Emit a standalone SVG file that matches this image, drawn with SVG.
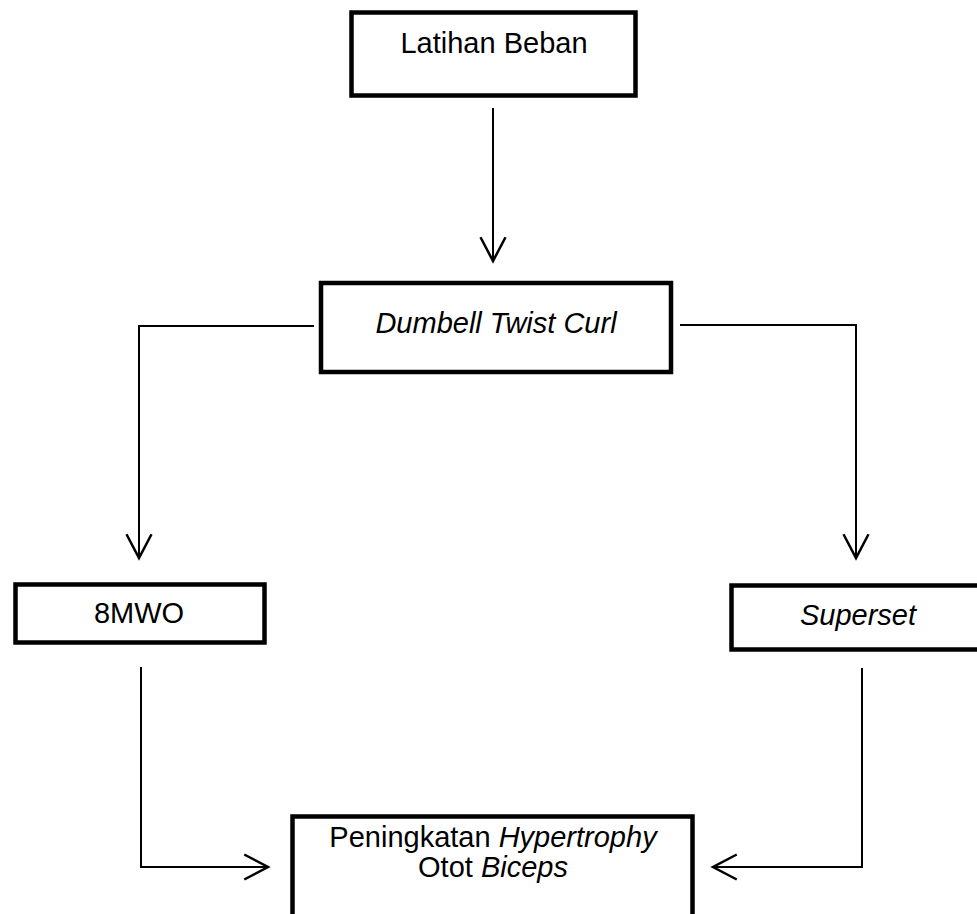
<svg xmlns="http://www.w3.org/2000/svg" width="977" height="914" viewBox="0 0 977 914">
<style>
.box{fill:#fff;stroke:#000;stroke-width:4.5}
.t{font-family:"Liberation Sans",Arial,sans-serif;font-size:29px;fill:#000;text-anchor:middle}
.i{font-style:italic}
.c{fill:none;stroke:#000;stroke-width:2}
</style>
<defs>
<marker id="ah" markerUnits="userSpaceOnUse" markerWidth="30" markerHeight="30" viewBox="-22 -12 24 24" refX="0" refY="0" orient="auto" overflow="visible">
<path d="M-19,-10 L0,0 L-19,10" fill="none" stroke="#000" stroke-width="2"/>
</marker>
</defs>
<rect width="977" height="914" fill="#fff"/>
<g id="connectors">
<path class="c" d="M493,108 L493,261" marker-end="url(#ah)"/>
<path class="c" d="M314,326 L139,326 L139,558" marker-end="url(#ah)"/>
<path class="c" d="M680,325 L856,325 L856,558" marker-end="url(#ah)"/>
<path class="c" d="M141,667 L141,867 L268,867" marker-end="url(#ah)"/>
<path class="c" d="M862,668 L862,867 L713,867" marker-end="url(#ah)"/>
</g>
<g id="n1">
<rect class="box" x="351.5" y="12.5" width="284" height="83"/>
<text class="t" x="494" y="53">Latihan Beban</text>
</g>
<g id="n2">
<rect class="box" x="321" y="283" width="350" height="89"/>
<text class="t i" x="496" y="333">Dumbell Twist Curl</text>
</g>
<g id="n3">
<rect class="box" x="15.5" y="584.5" width="249" height="58"/>
<text class="t" x="139" y="623">8MWO</text>
</g>
<g id="n4">
<rect class="box" x="731.5" y="585.5" width="270" height="64"/>
<text class="t i" x="858" y="625">Superset</text>
</g>
<g id="n5">
<rect class="box" x="292.5" y="816.5" width="400" height="120"/>
<text class="t" x="493" y="847">Peningkatan <tspan class="i">Hypertrophy</tspan></text>
<text class="t" x="493" y="877">Otot <tspan class="i">Biceps</tspan></text>
</g>
</svg>
